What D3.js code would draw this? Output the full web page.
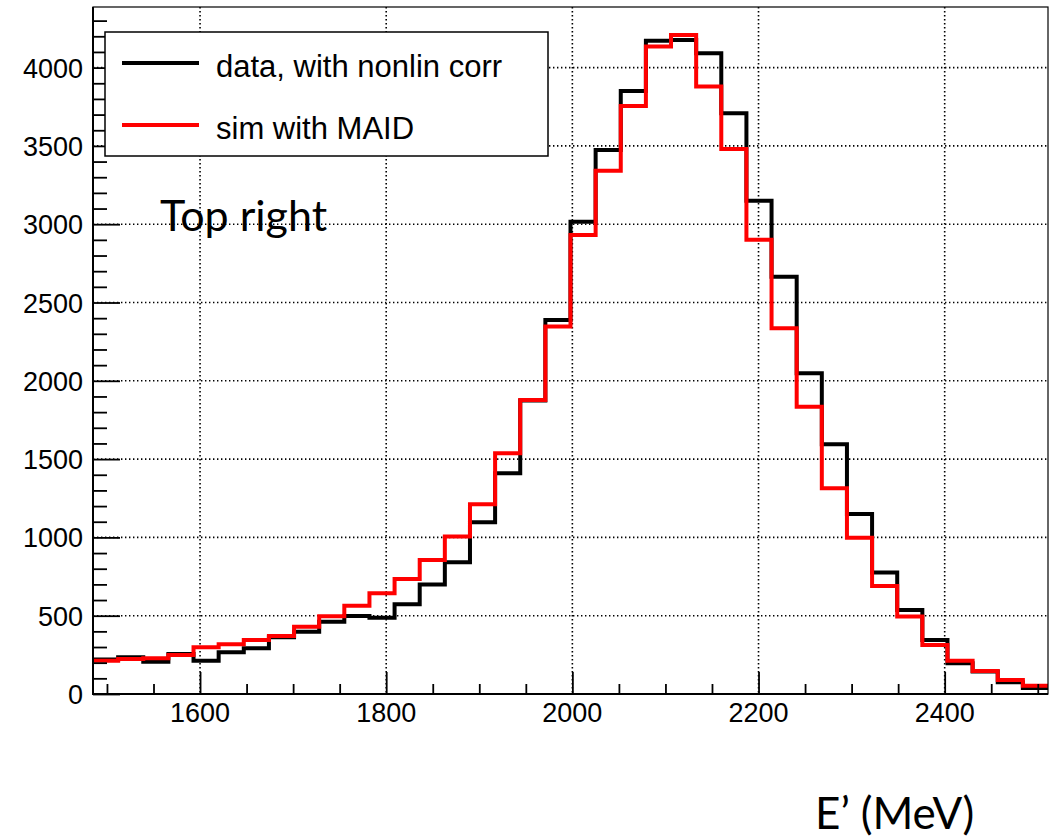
<!DOCTYPE html>
<html>
<head>
<meta charset="utf-8">
<script src="https://cdn.jsdelivr.net/npm/d3@7"></script>
<style>
  html, body { margin: 0; padding: 0; background: #fff; }
  svg { display: block; }
</style>
</head>
<body>
<svg id="chart" width="1061" height="839"></svg>
<script>
// ---- data ----
const binStart = 1485;      // MeV, low edge of first bin
const binWidth = 27;        // MeV
const dataCounts = [220, 234, 206, 255, 213, 266, 292, 362, 398, 462, 498, 487, 573, 700, 841, 1097, 1410, 1875, 2389, 3016,
                    3474, 3851, 4172, 4177, 4092, 3709, 3149, 2665, 2048, 1595, 1150, 776, 536, 345, 196, 143, 75, 38];
const simCounts  = [213, 223, 228, 249, 298, 317, 345, 370, 430, 496, 563, 643, 734, 856, 1005, 1211, 1537, 1878, 2346, 2931,
                    3342, 3755, 4134, 4209, 3879, 3481, 2900, 2336, 1835, 1314, 998, 690, 495, 313, 212, 147, 89, 53];
const xTicks = [1600, 1800, 2000, 2200, 2400];
const xMinorTicks = [1500, 1550, 1650, 1700, 1750, 1850, 1900, 1950, 2050, 2100, 2150, 2250, 2300, 2350, 2450, 2500];
const yTicks = [0, 500, 1000, 1500, 2000, 2500, 3000, 3500, 4000];
const yMinorTicks = [100,200,300,400,600,700,800,900,1100,1200,1300,1400,1600,1700,1800,1900,2100,2200,2300,2400,
                     2600,2700,2800,2900,3100,3200,3300,3400,3600,3700,3800,3900,4100,4200,4300];
const seriesNames = ["data, with nonlin corr", "sim with MAID"];
const seriesColors = ["#000000", "#ff0000"];
const xDomain = [1485, 2511];
const yDomain = [0, 4387];
const annotation = "Top right";
const xTitle = "E\u2019 (MeV)";

// ---- layout ----
const L = 93, R = 1048, T = 7, B = 694;
const svg = d3.select("#chart");
const x = d3.scaleLinear().domain(xDomain).range([L, R]);
const y = d3.scaleLinear().domain(yDomain).range([B, T]);

svg.append("defs").append("clipPath").attr("id", "clip")
  .append("rect").attr("x", L).attr("y", T).attr("width", R - L).attr("height", B - T);

// grid
const grid = svg.append("g").attr("stroke", "#000").attr("stroke-width", 1.6)
  .attr("stroke-dasharray", "1.4,2.6");
grid.selectAll("line.v").data(xTicks).join("line")
  .attr("x1", d => x(d)).attr("x2", d => x(d)).attr("y1", T).attr("y2", B);
grid.selectAll("line.h").data(yTicks.filter(d => d > 0)).join("line")
  .attr("x1", L).attr("x2", R).attr("y1", d => y(d)).attr("y2", d => y(d));

// histograms
function histPoints(counts) {
  const pts = counts.map((c, i) => [binStart + i * binWidth, c]);
  pts.push([binStart + counts.length * binWidth, counts[counts.length - 1]]);
  return pts;
}
const line = d3.line().x(d => x(d[0])).y(d => y(d[1])).curve(d3.curveStepAfter);
const hg = svg.append("g").attr("clip-path", "url(#clip)");
[dataCounts, simCounts].forEach((s, i) => {
  hg.append("path").datum(histPoints(s))
    .attr("d", line).attr("fill", "none")
    .attr("stroke", seriesColors[i]).attr("stroke-width", 4)
    .attr("stroke-linejoin", "miter").attr("stroke-linecap", "square");
});

// frame
svg.append("rect").attr("x", L).attr("y", T).attr("width", R - L).attr("height", B - T)
  .attr("fill", "none").attr("stroke", "#000").attr("stroke-width", 1.2);

// axes
const yAxis = d3.axisRight(y).tickValues(yTicks).tickSize(27).tickFormat("");
const yAxisMinor = d3.axisRight(y).tickValues(yMinorTicks).tickSize(14).tickFormat("");
const xAxis = d3.axisTop(x).tickValues(xTicks).tickSize(22).tickFormat("");
const xAxisMinor = d3.axisTop(x).tickValues(xMinorTicks).tickSize(10).tickFormat("");
[yAxis, yAxisMinor].forEach(a => {
  const g = svg.append("g").attr("transform", `translate(${L},0)`).call(a);
  g.select(".domain").remove();
  g.selectAll("line").attr("stroke", "#000").attr("stroke-width", 1.8);
});
[xAxis, xAxisMinor].forEach(a => {
  const g = svg.append("g").attr("transform", `translate(0,${B})`).call(a);
  g.select(".domain").remove();
  g.selectAll("line").attr("stroke", "#000").attr("stroke-width", 1.8);
});
svg.append("line").attr("x1", L).attr("x2", L).attr("y1", T).attr("y2", B + 1)
  .attr("stroke", "#000").attr("stroke-width", 2);
svg.append("line").attr("x1", L - 1).attr("x2", R).attr("y1", B).attr("y2", B)
  .attr("stroke", "#000").attr("stroke-width", 2);

// tick labels
const fontAx = "'Liberation Sans', Arial, Helvetica, sans-serif";
svg.append("g").selectAll("text").data(yTicks).join("text")
  .attr("x", 83).attr("y", d => y(d) + 10)
  .attr("text-anchor", "end").attr("font-family", fontAx).attr("font-size", 27)
  .text(d => d);
svg.append("g").selectAll("text").data(xTicks).join("text")
  .attr("x", d => x(d)).attr("y", 722)
  .attr("text-anchor", "middle").attr("font-family", fontAx).attr("font-size", 27)
  .text(d => d);

// legend
const lg = svg.append("g");
lg.append("rect").attr("x", 105).attr("y", 32).attr("width", 443).attr("height", 124)
  .attr("fill", "#fff").attr("stroke", "#000").attr("stroke-width", 1.5);
const legY = [63, 125];
seriesNames.forEach((n, i) => {
  lg.append("line").attr("x1", 122).attr("x2", 199).attr("y1", legY[i]).attr("y2", legY[i])
    .attr("stroke", seriesColors[i]).attr("stroke-width", 4);
  lg.append("text").attr("x", 216).attr("y", legY[i] + 14)
    .attr("font-family", fontAx).attr("font-size", 31).text(n);
});

// annotations
svg.append("text").attr("x", 160).attr("y", 231)
  .attr("font-family", "Lato, 'Open Sans', sans-serif").attr("font-size", 43).text(annotation);
svg.append("text").attr("x", 815).attr("y", 829)
  .attr("font-family", "Lato, 'Open Sans', sans-serif").attr("font-size", 44).text(xTitle);
</script>
</body>
</html>
